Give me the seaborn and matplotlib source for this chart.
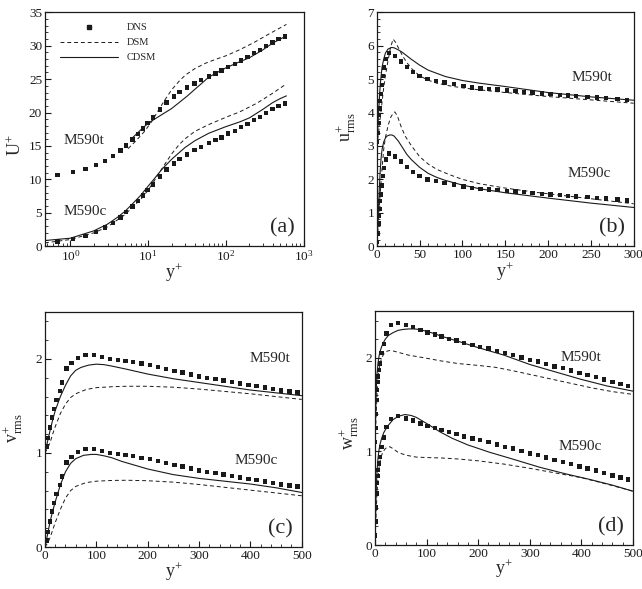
import numpy as np
import matplotlib
matplotlib.use('Agg')
import matplotlib.pyplot as plt
from matplotlib.lines import Line2D
from matplotlib.ticker import MultipleLocator, LogLocator, NullFormatter
import seaborn as sns

# M590t is drawn shifted up by these amounts over M590c (same DNS reference)
shift_a, shift_b, shift_c, shift_d = 10, 3, 1, 1

# ---------------- (a) mean velocity U+ vs y+ (log) ----------------
yp_dns_a = [0.68, 1.08, 1.56, 2.12, 2.78, 3.52, 4.39, 5.19, 6.27, 7.43, 8.53, 9.8, 11.5, 14.3,
            17.3, 21.3, 25.4, 31.6, 39.4, 48.0, 60.3, 73.6, 87.9, 107, 130, 156, 189, 231,
            276, 330, 398, 476, 575]
u_dns_a = [0.7, 1.1, 1.57, 2.12, 2.78, 3.5, 4.3, 5.1, 5.95, 6.8, 7.6, 8.4, 9.25, 10.44,
           11.5, 12.4, 13.05, 13.75, 14.38, 14.87, 15.43, 15.87, 16.28, 16.85, 17.27, 17.8,
           18.3, 18.9, 19.36, 19.95, 20.5, 21.0, 21.36]

yp_dsm_ac = [0.47, 1, 2, 3, 5, 8, 10, 12, 15, 20, 25, 30, 40, 60, 100, 150, 250, 400, 600]
u_dsm_ac = [0.5, 1.0, 2.0, 2.9, 4.7, 7.0, 8.4, 9.8, 11.6, 13.8, 15.2, 16.1, 17.2, 18.2,
            19.3, 20.1, 21.4, 22.9, 24.3]
yp_cdsm_ac = [0.47, 1, 2, 3, 4, 5, 6, 8, 10, 12, 15, 20, 25, 30, 40, 60, 100, 150, 200,
              300, 400, 500, 600]
u_cdsm_ac = [0.85, 1.2, 2.3, 3.3, 4.3, 5.2, 6.1, 7.6, 9.0, 10.1, 11.5, 13.0, 14.0, 14.8,
             15.8, 16.9, 17.9, 18.6, 19.2, 20.5, 21.5, 22.1, 22.5]

yp_dsm_at = [5.5, 7, 9, 11, 13, 16, 20, 25, 30, 40, 55, 75, 100, 150, 230, 350, 450, 600]
u_dsm_at = [14.6, 15.8, 17.2, 18.6, 20.0, 21.7, 23.4, 24.7, 25.6, 26.6, 27.4, 28.0, 28.5,
            29.4, 30.5, 31.7, 32.4, 33.2]
yp_cdsm_at = [6, 8, 10, 12, 15, 20, 25, 32, 40, 48, 60, 80, 100, 150, 200, 300, 400, 600]
u_cdsm_at = [16.0, 17.4, 18.4, 19.0, 19.7, 20.6, 21.5, 22.5, 23.5, 24.3, 25.3, 26.1, 26.7,
             27.6, 28.2, 29.4, 30.4, 31.5]

# ---------------- (b) u_rms ----------------
yp_dns_b = [0.3, 1.0, 1.8, 2.5, 3.1, 3.9, 4.7, 5.8, 7.0, 8.5, 10.5, 14.4, 21.4, 28, 35, 42,
            50, 59, 69, 79, 90, 101, 111, 121, 131, 141, 152, 162, 172, 182, 193, 203, 214,
            223, 233, 246, 257, 268, 281, 292]
urms_dns_b = [0.12, 0.38, 0.68, 0.92, 1.12, 1.35, 1.55, 1.82, 2.1, 2.35, 2.6, 2.78, 2.69,
              2.53, 2.37, 2.22, 2.1, 2.0, 1.95, 1.9, 1.85, 1.79, 1.75, 1.72, 1.7, 1.69,
              1.66, 1.64, 1.62, 1.6, 1.57, 1.55, 1.53, 1.51, 1.49, 1.47, 1.45, 1.43, 1.4,
              1.37]

yp_dsm_bc = [0, 1, 2, 4, 6, 8, 10, 13, 16, 19, 21, 24, 28, 33, 40, 50, 60, 70, 85, 100, 120,
             150, 190, 230, 270, 300]
urms_dsm_bc = [0, 0.4, 0.8, 1.6, 2.3, 2.9, 3.25, 3.6, 3.85, 3.98, 4.02, 3.9, 3.6, 3.3, 3.02,
               2.68, 2.46, 2.3, 2.14, 2.0, 1.87, 1.74, 1.6, 1.48, 1.36, 1.27]
yp_cdsm_bc = [0, 1, 2, 3, 4, 5, 6, 8, 10, 12, 15, 17.5, 20, 25, 30, 35, 40, 50, 60, 70, 80,
              100, 120, 150, 200, 250, 300]
urms_cdsm_bc = [0, 0.6, 1.2, 1.8, 2.3, 2.65, 2.88, 3.12, 3.24, 3.3, 3.33, 3.33, 3.3, 3.15,
                2.95, 2.75, 2.6, 2.36, 2.18, 2.06, 1.97, 1.83, 1.72, 1.6, 1.44, 1.29, 1.16]

yp_dsm_bt = [0, 2, 4, 6, 8, 10, 13, 16, 19, 22, 26, 30, 35, 40, 50, 60, 70, 85, 100, 120,
             150, 200, 250, 300]
urms_dsm_bt = [3.0, 3.4, 3.85, 4.3, 4.75, 5.1, 5.55, 5.95, 6.2, 6.1, 5.9, 5.7, 5.5, 5.33,
               5.1, 4.97, 4.88, 4.8, 4.74, 4.68, 4.6, 4.48, 4.38, 4.28]
yp_cdsm_bt = [0, 1, 2, 3, 4, 6, 8, 10, 13, 17, 20, 25, 30, 40, 50, 60, 80, 100, 120, 150,
              200, 250, 300]
urms_cdsm_bt = [3.0, 3.5, 4.0, 4.45, 4.85, 5.35, 5.6, 5.78, 5.9, 5.95, 5.94, 5.88, 5.8, 5.6,
                5.42, 5.27, 5.08, 4.96, 4.88, 4.78, 4.6, 4.47, 4.37]

# ---------------- (c) v_rms ----------------
yp_dns_c = [3.2, 6.5, 9.7, 14.3, 18.2, 22.7, 29.2, 33.7, 42.2, 51.9, 64.9, 79, 96, 111.5,
            127, 142.7, 157, 172, 188, 204, 220, 236, 252, 268, 284, 300, 316, 332, 348,
            364, 380, 396, 412, 428, 444, 460, 476, 492]
vrms_dns_c = [0.07, 0.16, 0.27, 0.376, 0.465, 0.564, 0.66, 0.75, 0.9, 0.96, 1.01, 1.04,
              1.04, 1.02, 1.0, 0.99, 0.98, 0.97, 0.95, 0.935, 0.915, 0.895, 0.875, 0.855,
              0.835, 0.815, 0.8, 0.785, 0.77, 0.755, 0.74, 0.725, 0.71, 0.695, 0.68,
              0.665, 0.655, 0.645]

yp_dsm_cc = [0, 5, 10, 15, 20, 30, 40, 50, 60, 80, 100, 130, 160, 200, 250, 300, 350, 400,
             450, 500]
vrms_dsm_cc = [0, 0.04, 0.1, 0.18, 0.26, 0.4, 0.52, 0.6, 0.645, 0.685, 0.7, 0.708, 0.71,
               0.705, 0.69, 0.665, 0.635, 0.605, 0.575, 0.545]
yp_cdsm_cc = [0, 5, 10, 15, 20, 30, 40, 50, 60, 75, 90, 100, 115, 130, 150, 175, 200, 250,
              300, 350, 400, 450, 500]
vrms_cdsm_cc = [0, 0.13, 0.27, 0.38, 0.48, 0.66, 0.8, 0.89, 0.94, 0.975, 0.985, 0.985,
                0.97, 0.95, 0.91, 0.87, 0.83, 0.77, 0.73, 0.7, 0.67, 0.63, 0.58]

yp_dsm_ct = [0, 5, 10, 15, 20, 30, 40, 50, 60, 80, 100, 130, 160, 200, 250, 300, 350, 400,
             450, 500]
vrms_dsm_ct = [1.0, 1.05, 1.11, 1.2, 1.28, 1.42, 1.52, 1.59, 1.63, 1.675, 1.695, 1.705,
               1.71, 1.71, 1.7, 1.68, 1.655, 1.63, 1.6, 1.57]
yp_cdsm_ct = [0, 5, 10, 15, 20, 30, 40, 50, 60, 70, 85, 100, 115, 130, 160, 200, 250, 300,
              350, 400, 450, 500]
vrms_cdsm_ct = [1.0, 1.12, 1.24, 1.35, 1.45, 1.6, 1.72, 1.82, 1.88, 1.91, 1.935, 1.945,
                1.94, 1.925, 1.89, 1.84, 1.79, 1.75, 1.71, 1.67, 1.64, 1.61]

# ---------------- (d) w_rms ----------------
yp_dns_d = [0.5, 1.3, 2.2, 3.2, 4.2, 5.3, 6.5, 8, 9.7, 13, 17, 22.6, 31, 45, 60, 74, 88.5,
            102, 116, 129, 143, 158, 173, 189, 204, 220, 236, 252, 268, 284, 300, 316, 332,
            348, 364, 380, 396, 412, 428, 444, 460, 476, 490]
wrms_dns_d = [0.1, 0.25, 0.4, 0.55, 0.66, 0.74, 0.8, 0.87, 0.94, 1.05, 1.15, 1.26, 1.35,
              1.376, 1.354, 1.33, 1.3, 1.27, 1.25, 1.23, 1.205, 1.185, 1.16, 1.14, 1.12,
              1.1, 1.075, 1.05, 1.03, 1.005, 0.98, 0.96, 0.935, 0.91, 0.89, 0.865, 0.84,
              0.82, 0.795, 0.77, 0.745, 0.72, 0.7]

yp_dsm_dc = [0, 2, 4, 6, 8, 10, 13, 16, 20, 25, 29, 35, 45, 60, 80, 100, 130, 160, 200, 250,
             300, 350, 400, 450, 500]
wrms_dsm_dc = [0, 0.3, 0.55, 0.72, 0.83, 0.9, 0.96, 1.0, 1.03, 1.05, 1.05, 1.03, 0.99,
               0.96, 0.94, 0.935, 0.93, 0.92, 0.9, 0.865, 0.82, 0.77, 0.72, 0.65, 0.575]
yp_cdsm_dc = [0, 1, 2, 3, 4, 6, 8, 10, 13, 17, 20, 26, 35, 45, 58, 70, 80, 100, 126, 150,
              180, 223, 260, 320, 370, 417, 460, 500]
wrms_cdsm_dc = [0, 0.25, 0.48, 0.66, 0.78, 0.93, 1.02, 1.08, 1.14, 1.2, 1.23, 1.28, 1.34,
                1.375, 1.395, 1.385, 1.365, 1.3, 1.21, 1.14, 1.07, 0.99, 0.93, 0.83, 0.76,
                0.7, 0.64, 0.575]

yp_dsm_dt = [0, 2, 4, 6, 8, 10, 13, 17, 22, 29, 35, 45, 65, 97, 126, 161, 200, 233, 270, 320,
             370, 420, 460, 500]
wrms_dsm_dt = [1.0, 1.35, 1.6, 1.77, 1.88, 1.94, 2.0, 2.04, 2.07, 2.08, 2.075, 2.06, 2.03,
               2.0, 1.97, 1.94, 1.92, 1.9, 1.86, 1.8, 1.74, 1.68, 1.64, 1.61]
yp_cdsm_dt = [0, 1, 2, 3, 4, 6, 8, 10, 13, 17, 20, 26, 35, 45, 55, 65, 75, 85, 100, 115,
              130, 160, 200, 250, 300, 350, 400, 450, 500]
wrms_cdsm_dt = [1.0, 1.3, 1.55, 1.72, 1.82, 1.95, 2.02, 2.07, 2.12, 2.17, 2.2, 2.24, 2.27,
                2.295, 2.305, 2.31, 2.31, 2.305, 2.285, 2.26, 2.23, 2.18, 2.11, 2.03, 1.93,
                1.85, 1.77, 1.7, 1.645]

sns.set_theme(style='ticks')
plt.rcParams['font.family'] = ['Liberation Serif', 'DejaVu Serif']
plt.rcParams['mathtext.fontset'] = 'custom'
plt.rcParams['mathtext.rm'] = 'Liberation Serif'
plt.rcParams['mathtext.it'] = 'Liberation Serif:italic'

DASH = (0, (4, 3))


def draw(ax, x_dns, y_dns, shift, dsm, cdsm):
    sns.scatterplot(x=x_dns, y=np.array(y_dns), marker='s', s=10, color='k',
                    edgecolor='none', ax=ax, zorder=3)
    sns.scatterplot(x=x_dns, y=np.array(y_dns) + shift, marker='s', s=10, color='k',
                    edgecolor='none', ax=ax, zorder=3)
    for xs, ys in dsm:
        sns.lineplot(x=xs, y=ys, color='k', lw=0.7, linestyle=DASH, ax=ax, errorbar=None)
    for xs, ys in cdsm:
        sns.lineplot(x=xs, y=ys, color='k', lw=0.8, ax=ax, errorbar=None)


def style(ax, ylab, ylab_xy, xlab_y, tag, t_xy, c_xy):
    ax.tick_params(which='both', direction='in', top=False, right=False,
                   labelsize=9.5, colors='k', pad=2)
    ax.tick_params(which='major', length=4, width=0.8)
    ax.tick_params(which='minor', length=2.2, width=0.6)
    for sp in ax.spines.values():
        sp.set_visible(True)
        sp.set_color('k')
        sp.set_linewidth(0.9)
    ax.set_xlabel(r'$\mathrm{y}^{+}$', fontsize=13)
    ax.set_ylabel(ylab, fontsize=13)
    ax.xaxis.label.set(va='center', ha='center')
    ax.yaxis.label.set(va='center', ha='center')
    ax.xaxis.set_label_coords(0.5, xlab_y)
    ax.yaxis.set_label_coords(*ylab_xy)
    ax.text(t_xy[0], t_xy[1], 'M590t', transform=ax.transAxes, fontsize=11,
            ha='left', va='center')
    ax.text(c_xy[0], c_xy[1], 'M590c', transform=ax.transAxes, fontsize=11,
            ha='left', va='center')
    ax.text(0.966, 0.078, tag, transform=ax.transAxes, fontsize=16, ha='right', va='center')


fig = plt.figure(figsize=(6.42, 5.89), dpi=100)
ax_a = fig.add_axes([0.070, 0.582, 0.403, 0.397])
ax_b = fig.add_axes([0.587, 0.582, 0.400, 0.397])
ax_c = fig.add_axes([0.070, 0.0713, 0.400, 0.399])
ax_d = fig.add_axes([0.584, 0.0747, 0.402, 0.397])

# (a)
draw(ax_a, yp_dns_a, u_dns_a, shift_a,
     [(yp_dsm_ac, u_dsm_ac), (yp_dsm_at, u_dsm_at)],
     [(yp_cdsm_ac, u_cdsm_ac), (yp_cdsm_at, u_cdsm_at)])
ax_a.set_xscale('log')
ax_a.set_xlim(0.47, 1000)
ax_a.set_ylim(0, 35)
ax_a.yaxis.set_major_locator(MultipleLocator(5))
ax_a.yaxis.set_minor_locator(MultipleLocator(1))
ax_a.xaxis.set_major_locator(LogLocator(base=10))
ax_a.xaxis.set_minor_locator(LogLocator(base=10, subs=np.arange(2, 10)))
ax_a.xaxis.set_minor_formatter(NullFormatter())
style(ax_a, r'$\mathrm{U}^{+}$', (-0.115, 0.43), -0.115, '(a)', (0.073, 0.453), (0.073, 0.15))
handles = [Line2D([], [], ls='none', marker='s', ms=3.2, color='k'),
           Line2D([], [], color='k', lw=0.7, linestyle=DASH),
           Line2D([], [], color='k', lw=0.8)]
ax_a.legend(handles, ['DNS', 'DSM', 'CDSM'], loc='upper left', bbox_to_anchor=(0.058, 0.955),
            frameon=False, fontsize=7.5, handlelength=5.6, handletextpad=0.8,
            labelspacing=0.55, borderpad=0, borderaxespad=0, numpoints=1)

# (b)
draw(ax_b, yp_dns_b, urms_dns_b, shift_b,
     [(yp_dsm_bc, urms_dsm_bc), (yp_dsm_bt, urms_dsm_bt)],
     [(yp_cdsm_bc, urms_cdsm_bc), (yp_cdsm_bt, urms_cdsm_bt)])
ax_b.set_xlim(0, 300)
ax_b.set_ylim(0, 7)
ax_b.xaxis.set_major_locator(MultipleLocator(50))
ax_b.xaxis.set_minor_locator(MultipleLocator(10))
ax_b.yaxis.set_major_locator(MultipleLocator(1))
ax_b.yaxis.set_minor_locator(MultipleLocator(0.2))
style(ax_b, r'$\mathrm{u}^{+}_{\mathrm{rms}}$', (-0.12, 0.51), -0.108, '(b)',
      (0.757, 0.723), (0.742, 0.31))

# (c)
draw(ax_c, yp_dns_c, vrms_dns_c, shift_c,
     [(yp_dsm_cc, vrms_dsm_cc), (yp_dsm_ct, vrms_dsm_ct)],
     [(yp_cdsm_cc, vrms_cdsm_cc), (yp_cdsm_ct, vrms_cdsm_ct)])
ax_c.set_xlim(0, 500)
ax_c.set_ylim(0, 2.5)
ax_c.xaxis.set_major_locator(MultipleLocator(100))
ax_c.xaxis.set_minor_locator(MultipleLocator(20))
ax_c.yaxis.set_major_locator(MultipleLocator(1))
ax_c.yaxis.set_minor_locator(MultipleLocator(0.2))
style(ax_c, r'$\mathrm{v}^{+}_{\mathrm{rms}}$', (-0.123, 0.506), -0.106, '(c)',
      (0.795, 0.80), (0.74, 0.367))

# (d)
draw(ax_d, yp_dns_d, wrms_dns_d, shift_d,
     [(yp_dsm_dc, wrms_dsm_dc), (yp_dsm_dt, wrms_dsm_dt)],
     [(yp_cdsm_dc, wrms_cdsm_dc), (yp_cdsm_dt, wrms_cdsm_dt)])
ax_d.set_xlim(0, 500)
ax_d.set_ylim(0, 2.5)
ax_d.xaxis.set_major_locator(MultipleLocator(100))
ax_d.xaxis.set_minor_locator(MultipleLocator(20))
ax_d.yaxis.set_major_locator(MultipleLocator(1))
ax_d.yaxis.set_minor_locator(MultipleLocator(0.2))
style(ax_d, r'$\mathrm{w}^{+}_{\mathrm{rms}}$', (-0.10, 0.48), -0.102, '(d)',
      (0.721, 0.80), (0.712, 0.42))

fig.savefig('out.png', dpi=100)
